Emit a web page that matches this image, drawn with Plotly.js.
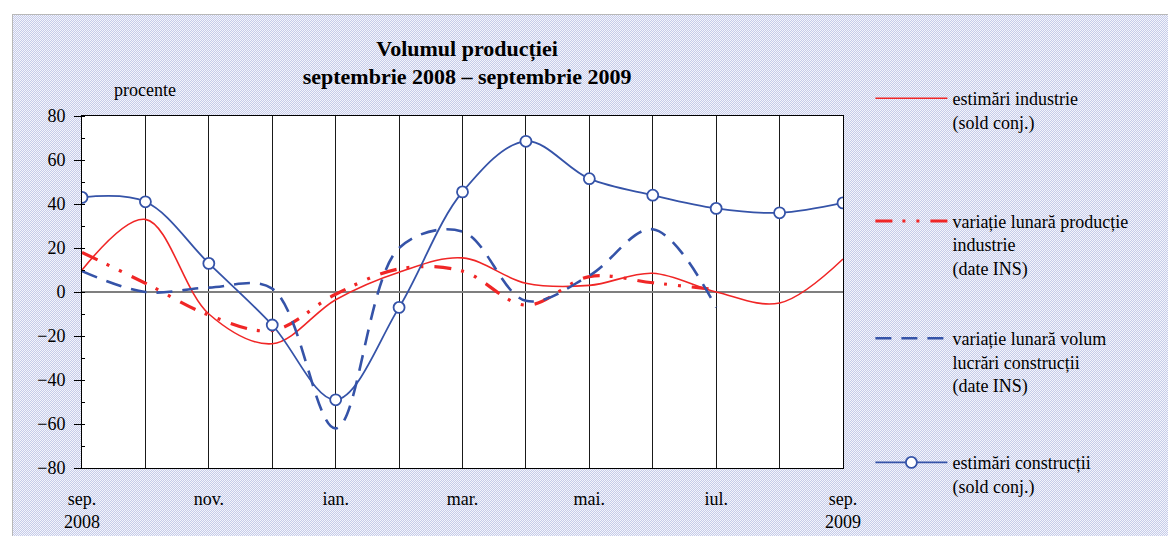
<!DOCTYPE html>
<html>
<head>
<meta charset="utf-8">
<script src="https://cdn.plot.ly/plotly-3.0.1.min.js"></script>
<style>
  html, body { margin: 0; padding: 0; background: #ffffff; }
  #frame {
    position: absolute; left: 12px; top: 14px; width: 1156px; height: 522px;
    border-left: 1px solid #b8b8b8; border-top: 1px solid #b8b8b8;
    background-color: #eceef8;
    background-image: repeating-conic-gradient(#c6cce9 0 25%, #f4f5fc 0 50%);
    background-size: 2px 2px;
  }
  #chart { position: absolute; left: 0; top: 0; width: 1168px; height: 536px; }
</style>
</head>
<body>
<div id="frame"></div>
<div id="chart"></div>
<script>
// Categories (monthly, sep 2008 – sep 2009)
const months = ["sep. 2008","oct. 2008","nov. 2008","dec. 2008","ian. 2009","feb. 2009","mar. 2009",
                "apr. 2009","mai. 2009","iun. 2009","iul. 2009","aug. 2009","sep. 2009"];
const tickLabels = ["sep.<br>2008","","nov.","","ian.","","mar.","","mai.","","iul.","","sep.<br>2009"];
const yTicks = [-80,-60,-40,-20,0,20,40,60,80];

// Series values (procente)
const estimariIndustrie     = [10, 33, -10, -23.5, -3.5, 9, 15.5, 4, 3, 8.5, 0, -5, 15];
const variatieIndustrie     = [18, 4, -10.5, -17.5, -1, 10.5, 9.5, -6, 7, 4.2, 1, null, null];
const variatieConstructii   = [9.5, 0, 2, 1.5, -62, 20, 27.5, -4, 7.5, 28.5, -7, null, null];
const estimariConstructii   = [43, 41, 13, -15, -49, -7, 45.5, 68.5, 51.5, 44, 38, 36, 40.5];

// Legend labels
const names = [
  "estimări industrie<br>(sold conj.)",
  "variație lunară producție<br>industrie<br>(date INS)",
  "variație lunară volum<br>lucrări construcții<br>(date INS)",
  "estimări construcții<br>(sold conj.)"
];

const RED = "#f02626";
const BLUE = "#3553a8";
const FONT = "Liberation Serif, Times New Roman, serif";

const traces = [
  { x: months, y: estimariIndustrie, name: names[0], legend: "legend", legendgroup: "g1", type: "scatter", mode: "lines",
    line: { color: RED, width: 1.6, shape: "spline" } },
  { x: months, y: variatieIndustrie, name: names[1], legend: "legend", legendgroup: "g2", type: "scatter", mode: "lines",
    line: { color: RED, width: 3.2, shape: "spline", dash: "17px,10px,3px,11px,3px,11px" } },
  { x: months, y: variatieConstructii, name: names[2], legend: "legend2", legendgroup: "g3", type: "scatter", mode: "lines",
    line: { color: BLUE, width: 2.6, shape: "spline", dash: "16px,10px" } },
  { x: months, y: estimariConstructii, name: names[3], legend: "legend2", legendgroup: "g4", type: "scatter", mode: "lines+markers",
    line: { color: BLUE, width: 1.8, shape: "spline" },
    marker: { symbol: "circle", size: 11, color: "#ffffff", line: { color: BLUE, width: 1.8 } } }
];

const legendBase = {
  orientation: "v",
  x: 1.036, xanchor: "left",
  yanchor: "top",
  valign: "top",
  itemwidth: 72,
  bgcolor: "rgba(0,0,0,0)",
  borderwidth: 0,
  traceorder: "grouped",
  font: { family: FONT, size: 18, color: "#000000" }
};

const layout = {
  width: 1168, height: 536,
  margin: { l: 82, r: 325, t: 116, b: 68, pad: 0 },
  paper_bgcolor: "rgba(0,0,0,0)",
  plot_bgcolor: "#ffffff",
  font: { family: FONT, size: 18, color: "#000000" },
  title: {
    text: "<b>Volumul producției<br>septembrie 2008 – septembrie 2009</b>",
    font: { family: FONT, size: 22, color: "#000000" },
    xref: "paper", x: 0.506, xanchor: "center",
    yref: "container", y: 0.896, yanchor: "top"
  },
  xaxis: {
    type: "category",
    range: [0, 12],
    tickmode: "array", tickvals: months, ticktext: tickLabels,
    showgrid: true, gridcolor: "#1a1a1a", gridwidth: 1,
    showline: true, mirror: true, linecolor: "#000000", linewidth: 1,
    ticks: "outside", ticklen: 14, tickcolor: "rgba(0,0,0,0)",
    tickangle: 0,
    tickfont: { family: FONT, size: 18, color: "#000000" },
    fixedrange: true
  },
  yaxis: {
    range: [-80, 80],
    tickmode: "array", tickvals: yTicks,
    showgrid: false,
    zeroline: true, zerolinecolor: "#7f7f7f", zerolinewidth: 2,
    showline: true, mirror: true, linecolor: "#000000", linewidth: 1,
    ticks: "outside", ticklen: 7, tickcolor: "#000000", tickwidth: 1,
    ticklabelstandoff: 5,
    minor: { tickmode: "linear", tick0: -80, dtick: 10, ticks: "inside", ticklen: 3, tickcolor: "#000000", showgrid: false },
    tickfont: { family: FONT, size: 18, color: "#000000" },
    fixedrange: true
  },
  showlegend: true,
  legend: Object.assign({}, legendBase, { y: 1.1023, tracegroupgap: 73 }),
  legend2: Object.assign({}, legendBase, { y: 0.4205, tracegroupgap: 51 }),
  annotations: [
    { text: "procente", xref: "x", x: "oct. 2008", yref: "paper", y: 1.074,
      xanchor: "center", yanchor: "middle", showarrow: false,
      font: { family: FONT, size: 18, color: "#000000" } }
  ]
};

Plotly.newPlot("chart", traces, layout, { displayModeBar: false, staticPlot: true });
</script>
</body>
</html>
